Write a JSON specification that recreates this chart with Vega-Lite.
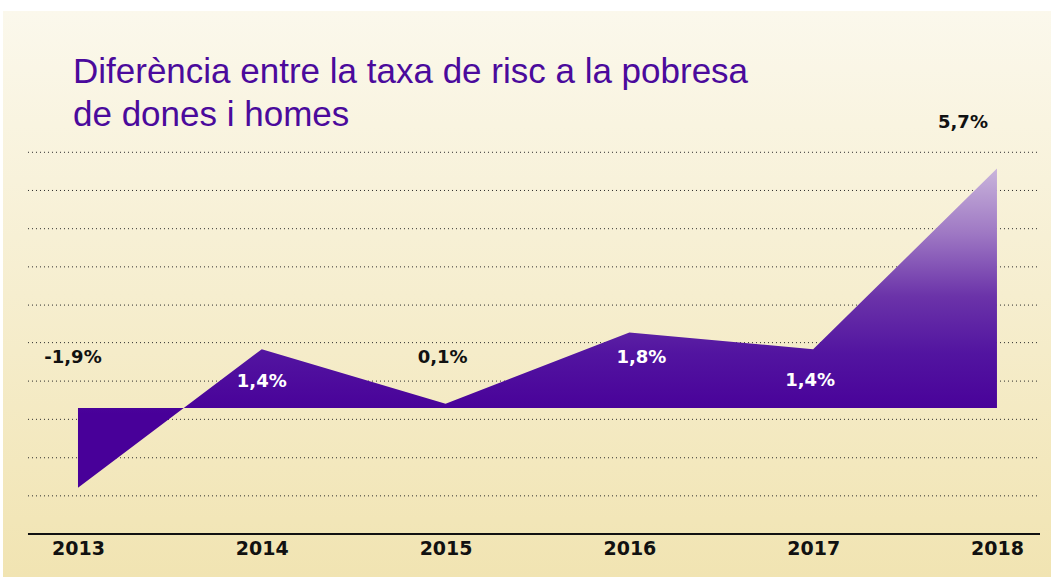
{
  "$schema": "https://vega.github.io/schema/vega-lite/v6.json",
  "width": 1048,
  "height": 566,
  "autosize": {"type": "none"},
  "padding": {"left": 3, "top": 11, "right": 0, "bottom": 0},
  "background": "white",
  "config": {
    "view": {
      "stroke": null,
      "fill": {"gradient": "linear", "x1": 0, "y1": 0, "x2": 0, "y2": 1,
        "stops": [{"offset": 0, "color": "#fbf8ec"}, {"offset": 1, "color": "#f1e4b2"}]}
    }
  },
  "title": {
    "text": ["Diferència entre la taxa de risc a la pobresa", "de dones i homes"],
    "anchor": "start",
    "frame": "group",
    "orient": "top",
    "offset": -122,
    "baseline": "top",
    "dx": 70,
    "font": "Liberation Sans",
    "fontSize": 35,
    "fontWeight": "normal",
    "color": "#4b0a9c",
    "lineHeight": 43
  },
  "datasets": {
    "pobresa": [
      {"year": 2013, "value": -1.9, "label": "-1,9%"},
      {"year": 2014, "value": 1.4, "label": "1,4%"},
      {"year": 2015, "value": 0.1, "label": "0,1%"},
      {"year": 2016, "value": 1.8, "label": "1,8%"},
      {"year": 2017, "value": 1.4, "label": "1,4%"},
      {"year": 2018, "value": 5.7, "label": "5,7%"}
    ],
    "grid": [
      {"v": 6.088}, {"v": 5.179}, {"v": 4.269}, {"v": 3.36}, {"v": 2.45},
      {"v": 1.556}, {"v": 0.64}, {"v": -0.27}, {"v": -1.185}, {"v": -2.092}
    ]
  },
  "layer": [
    {
      "data": {"name": "grid"},
      "mark": {"type": "rule", "stroke": "#2a2a2a", "strokeWidth": 1, "strokeDash": [1, 3]},
      "encoding": {
        "y": {"field": "v", "type": "quantitative", "axis": null, "scale": {"domain": [-4.024, 9.452], "nice": false, "zero": false}},
        "x": {"datum": 2012.728, "type": "quantitative", "scale": {"domain": [2012.592, 2018.294], "nice": false, "zero": false}},
        "x2": {"datum": 2018.234}
      }
    },
    {
      "data": {"name": "pobresa"},
      "mark": {
        "type": "area",
        "interpolate": "linear",
        "fill": {"gradient": "linear", "x1": 0, "y1": 0, "x2": 0, "y2": 1,
          "stops": [
            {"offset": 0, "color": "#c9b4db"},
            {"offset": 0.2, "color": "#9f79c4"},
            {"offset": 0.4, "color": "#6b33a9"},
            {"offset": 0.58, "color": "#5214a0"},
            {"offset": 0.77, "color": "#480099"},
            {"offset": 1, "color": "#480099"}
          ]}
      },
      "encoding": {
        "x": {"field": "year", "type": "quantitative",
          "scale": {"domain": [2012.592, 2018.294], "nice": false, "zero": false},
          "axis": {"orient": "bottom", "offset": -43, "domain": false, "ticks": false, "grid": false,
            "values": [2013, 2014, 2015, 2016, 2017, 2018], "format": "d", "title": null,
            "labelFont": "DejaVu Sans", "labelFontWeight": "bold", "labelFontSize": 19,
            "labelColor": "#111111", "labelPadding": 5, "labelFlush": false}},
        "y": {"field": "value", "type": "quantitative", "axis": null, "scale": {"domain": [-4.024, 9.452], "nice": false, "zero": false}},
        "y2": {"datum": 0}
      }
    },
    {
      "data": {"name": "pobresa"},
      "mark": {"type": "rule", "stroke": "#111111", "strokeWidth": 2},
      "encoding": {
        "y": {"datum": -3, "type": "quantitative", "scale": {"domain": [-4.024, 9.452], "nice": false, "zero": false}},
        "x": {"datum": 2012.728, "type": "quantitative", "scale": {"domain": [2012.592, 2018.294], "nice": false, "zero": false}},
        "x2": {"datum": 2018.234}
      }
    },
    {
      "data": {"name": "pobresa"},
      "transform": [{"filter": {"field": "year", "equal": 2013}}],
      "mark": {"type": "text", "font": "DejaVu Sans", "fontWeight": "bold", "fontSize": 18, "color": "#111111", "align": "center", "baseline": "middle", "dx": -5, "dy": -130},
      "encoding": {
        "x": {"field": "year", "type": "quantitative"},
        "y": {"field": "value", "type": "quantitative"},
        "text": {"field": "label"}
      }
    },
    {
      "data": {"name": "pobresa"},
      "transform": [{"filter": {"field": "year", "equal": 2014}}],
      "mark": {"type": "text", "font": "DejaVu Sans", "fontWeight": "bold", "fontSize": 18, "color": "#ffffff", "align": "center", "baseline": "middle", "dx": 0, "dy": 33},
      "encoding": {
        "x": {"field": "year", "type": "quantitative"},
        "y": {"field": "value", "type": "quantitative"},
        "text": {"field": "label"}
      }
    },
    {
      "data": {"name": "pobresa"},
      "transform": [{"filter": {"field": "year", "equal": 2015}}],
      "mark": {"type": "text", "font": "DejaVu Sans", "fontWeight": "bold", "fontSize": 18, "color": "#111111", "align": "center", "baseline": "middle", "dx": -3, "dy": -46},
      "encoding": {
        "x": {"field": "year", "type": "quantitative"},
        "y": {"field": "value", "type": "quantitative"},
        "text": {"field": "label"}
      }
    },
    {
      "data": {"name": "pobresa"},
      "transform": [{"filter": {"field": "year", "equal": 2016}}],
      "mark": {"type": "text", "font": "DejaVu Sans", "fontWeight": "bold", "fontSize": 18, "color": "#ffffff", "align": "center", "baseline": "middle", "dx": 12, "dy": 26},
      "encoding": {
        "x": {"field": "year", "type": "quantitative"},
        "y": {"field": "value", "type": "quantitative"},
        "text": {"field": "label"}
      }
    },
    {
      "data": {"name": "pobresa"},
      "transform": [{"filter": {"field": "year", "equal": 2017}}],
      "mark": {"type": "text", "font": "DejaVu Sans", "fontWeight": "bold", "fontSize": 18, "color": "#ffffff", "align": "center", "baseline": "middle", "dx": -3, "dy": 32},
      "encoding": {
        "x": {"field": "year", "type": "quantitative"},
        "y": {"field": "value", "type": "quantitative"},
        "text": {"field": "label"}
      }
    },
    {
      "data": {"name": "pobresa"},
      "transform": [{"filter": {"field": "year", "equal": 2018}}],
      "mark": {"type": "text", "font": "DejaVu Sans", "fontWeight": "bold", "fontSize": 18, "color": "#111111", "align": "center", "baseline": "middle", "dx": -34, "dy": -46},
      "encoding": {
        "x": {"field": "year", "type": "quantitative"},
        "y": {"field": "value", "type": "quantitative"},
        "text": {"field": "label"}
      }
    }
  ]
}
